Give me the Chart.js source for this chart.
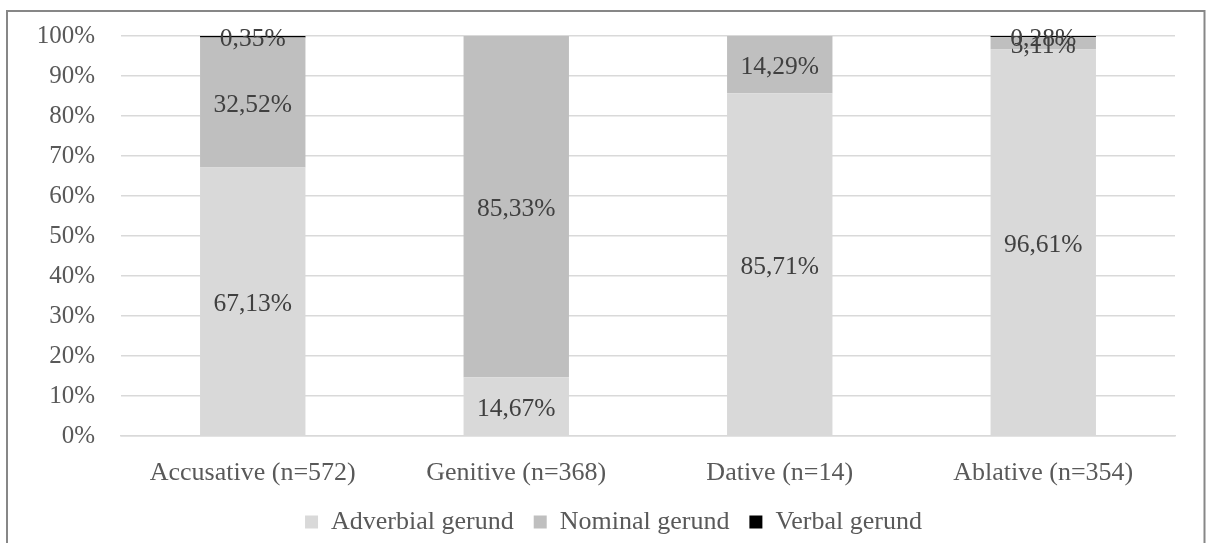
<!DOCTYPE html>
<html>
<head>
<meta charset="utf-8">
<script src="https://cdn.jsdelivr.net/npm/chart.js@4"></script>
<style>
  html, body { margin: 0; padding: 0; background: #fff; }
  canvas { display: block; }
</style>
</head>
<body>
<canvas id="chart" width="1206" height="543"></canvas>
<script>
(function () {
    'use strict';
    var categories = ['Accusative (n=572)', 'Genitive (n=368)', 'Dative (n=14)', 'Ablative (n=354)'];
    var adverbial = [67.13, 14.67, 85.71, 96.61];
    var nominal = [32.52, 85.33, 14.29, 3.11];
    var verbal = [0.35, 0, 0, 0.28];
    var yTicks = [0, 10, 20, 30, 40, 50, 60, 70, 80, 90, 100];

    var font = 'Liberation Serif';
    var textGray = '#595959';
    var gridGray = '#d9d9d9';

    // outer frame like the Word/Excel chart box
    var framePlugin = {
        id: 'frame',
        beforeDraw: function (chart) {
            var c = chart.ctx;
            c.save();
            c.fillStyle = '#fff';
            c.fillRect(0, 0, chart.width, chart.height);
            c.strokeStyle = '#878787';
            c.lineWidth = 2;
            c.strokeRect(7, 11, 1197.5, 600);
            c.restore();
        }
    };

    // nudge the legend so it sits centred like the original
    var legendShift = {
        id: 'legendShift',
        afterLayout: function (chart) {
            var lg = chart.legend;
            if (!lg) return;
            lg.left += 18;
            lg.right += 18;
            if (lg.legendHitBoxes) lg.legendHitBoxes.forEach(function (b) { b.left += 18; });
        }
    };

    // value labels centred in each segment
    var labelPlugin = {
        id: 'segLabels',
        afterDatasetsDraw: function (chart) {
            var c = chart.ctx;
            c.save();
            c.font = '25.5px "' + font + '"';
            c.fillStyle = '#404040';
            c.textAlign = 'center';
            c.textBaseline = 'middle';
            chart.data.datasets.forEach(function (ds, di) {
                var meta = chart.getDatasetMeta(di);
                meta.data.forEach(function (bar, i) {
                    var v = ds.data[i];
                    if (!v) return;
                    var p = bar.getProps(['x', 'y', 'base'], true);
                    var txt = v.toFixed(2).replace('.', ',') + '%';
                    c.fillText(txt, p.x, (p.y + p.base) / 2 + 3);
                });
            });
            c.restore();
        }
    };

    new Chart(document.getElementById('chart'), {
        type: 'bar',
        data: {
            labels: categories,
            datasets: [
                { label: 'Adverbial gerund', data: adverbial, backgroundColor: '#d9d9d9' },
                { label: 'Nominal gerund', data: nominal, backgroundColor: '#bfbfbf' },
                { label: 'Verbal gerund', data: verbal, backgroundColor: '#000000' }
            ]
        },
        options: {
            responsive: false,
            animation: false,
            layout: { padding: { top: 36, left: 16, right: 31, bottom: -2 } },
            datasets: {
                bar: { categoryPercentage: 1, barPercentage: 0.4, borderWidth: 0 }
            },
            plugins: {
                legend: {
                    position: 'bottom',
                    labels: {
                        font: { family: font, size: 26 },
                        color: textGray,
                        boxWidth: 13,
                        boxHeight: 13,
                        padding: 20
                    }
                },
                tooltip: { enabled: false }
            },
            scales: {
                x: {
                    stacked: true,
                    afterFit: function (s) { s.height = 53; },
                    grid: { display: false, drawTicks: false },
                    border: { color: gridGray, width: 1.5 },
                    ticks: { font: { family: font, size: 26 }, color: textGray, padding: 22 }
                },
                y: {
                    stacked: true,
                    min: 0,
                    max: 100,
                    afterFit: function (s) {
                        s.width = 105;
                        s.paddingTop = 0;
                        s.paddingBottom = 0;
                    },
                    afterBuildTicks: function (s) {
                        s.ticks = yTicks.map(function (v) { return { value: v }; });
                    },
                    grid: { color: gridGray, lineWidth: 1.5, drawTicks: false },
                    border: { display: false },
                    ticks: {
                        font: { family: font, size: 25 },
                        color: textGray,
                        padding: 26,
                        callback: function (v) { return v + '%'; }
                    }
                }
            }
        },
        plugins: [framePlugin, legendShift, labelPlugin]
    });
})();
</script>
</body>
</html>
